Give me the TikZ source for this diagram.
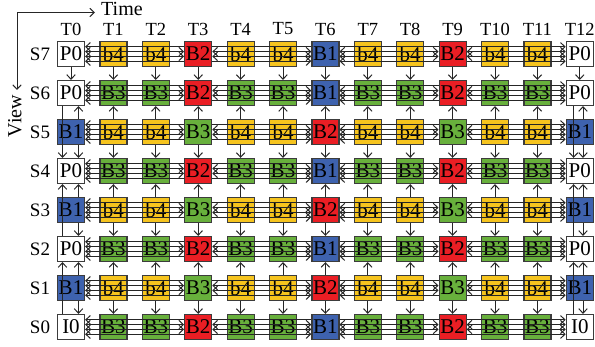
\documentclass[tikz,border=0pt]{standalone}
\usepackage{fontspec}
\setmainfont{Liberation Serif}
\usetikzlibrary{arrows.meta}
\definecolor{frmyel}{RGB}{246,196,30}
\definecolor{frmgrn}{RGB}{104,176,60}
\definecolor{frmred}{RGB}{234,30,36}
\definecolor{frmblu}{RGB}{62,98,174}
\definecolor{frmedge}{RGB}{60,60,60}
\tikzset{frm/.style={draw=frmedge,line width=1.2pt,minimum width=27pt,minimum height=25pt,
           inner sep=0pt,font=\fontsize{21}{21}\selectfont},
         wfr/.style={frm,fill=white},
         yfr/.style={frm,fill=frmyel},
         gfr/.style={frm,fill=frmgrn},
         rfr/.style={frm,fill=frmred},
         bfr/.style={frm,fill=frmblu},
         ref/.style={>={Straight Barb[length=4.5pt,width=8.5pt]},line width=1pt,draw=black!85},
         lbl/.style={inner sep=0pt,font=\fontsize{19}{19}\selectfont}}

\begin{document}
\begin{tikzpicture}[x=1pt,y=-1pt]
\useasboundingbox (0,0) rectangle (595,347);
\def\dx{42.4}
\def\dy{39}
% axes
\coordinate (tend) at (95,12.5);
\coordinate (vend) at (17,90);
\draw[ref,<->] (vend) |- (tend);
\node[lbl,anchor=west,font=\fontsize{20}{20}\selectfont] (time) at (101,9) {Time};
\node[lbl,rotate=90,font=\fontsize{20}{20}\selectfont] (view) at (15,116) {View};
% labels
\foreach \c in {0,...,12}
  \node[lbl,font=\fontsize{18.5}{18.5}\selectfont] (t\c) at ({71+\dx*\c},29) {T\c};
\foreach \r in {0,...,7}
  \node[lbl] (l\r) at (40,{327-\dy*\r}) {S\r};
% frames
\foreach \c/\lab/\sty in {0/I0/wfr,1/B3/gfr,2/B3/gfr,3/B2/rfr,4/B3/gfr,5/B3/gfr,6/B1/bfr,
                          7/B3/gfr,8/B3/gfr,9/B2/rfr,10/B3/gfr,11/B3/gfr,12/I0/wfr}
  \node[\sty] (s0-\c) at ({71+\dx*\c},327) {\lab};
\foreach \r in {2,4,6}
  \foreach \c/\lab/\sty in {0/P0/wfr,1/B3/gfr,2/B3/gfr,3/B2/rfr,4/B3/gfr,5/B3/gfr,6/B1/bfr,
                            7/B3/gfr,8/B3/gfr,9/B2/rfr,10/B3/gfr,11/B3/gfr,12/P0/wfr}
    \node[\sty] (s\r-\c) at ({71+\dx*\c},{327-\dy*\r}) {\lab};
\foreach \r in {1,3,5}
  \foreach \c/\lab/\sty in {0/B1/bfr,1/b4/yfr,2/b4/yfr,3/B3/gfr,4/b4/yfr,5/b4/yfr,6/B2/rfr,
                            7/b4/yfr,8/b4/yfr,9/B3/gfr,10/b4/yfr,11/b4/yfr,12/B1/bfr}
    \node[\sty] (s\r-\c) at ({71+\dx*\c},{327-\dy*\r}) {\lab};
\foreach \c/\lab/\sty in {0/P0/wfr,1/b4/yfr,2/b4/yfr,3/B2/rfr,4/b4/yfr,5/b4/yfr,6/B1/bfr,
                          7/b4/yfr,8/b4/yfr,9/B2/rfr,10/b4/yfr,11/b4/yfr,12/P0/wfr}
  \node[\sty] (s7-\c) at ({71+\dx*\c},54) {\lab};
% references in time
\foreach \r in {0,...,7}{
  \foreach \a/\b in {0/3,3/6,6/9,9/12}{
    \draw[ref,<->] ([yshift=2.4pt]s\r-\a.east) -- ([yshift=2.4pt]s\r-\b.west);
    \draw[ref,<->] ([yshift=-2.4pt]s\r-\a.east) -- ([yshift=-2.4pt]s\r-\b.west);
  }
  % level 1
  \draw[ref,<-] ([yshift=7.2pt]s\r-0.east) -- ([yshift=7.2pt]s\r-3.west);
  \draw[ref] ([yshift=7.2pt]s\r-3.east) -- ([yshift=7.2pt]s\r-6.west);
  \draw[ref] ([yshift=7.2pt]s\r-6.east) -- ([yshift=7.2pt]s\r-9.west);
  \draw[ref,->] ([yshift=7.2pt]s\r-9.east) -- ([yshift=7.2pt]s\r-12.west);
  % level 2
  \draw[ref,<-] ([yshift=-7.2pt]s\r-0.east) -- ([yshift=-7.2pt]s\r-3.west);
  \draw[ref,->] ([yshift=-7.2pt]s\r-3.east) -- ([yshift=-7.2pt]s\r-6.west);
  \draw[ref,<-] ([yshift=-7.2pt]s\r-6.east) -- ([yshift=-7.2pt]s\r-9.west);
  \draw[ref,->] ([yshift=-7.2pt]s\r-9.east) -- ([yshift=-7.2pt]s\r-12.west);
}
% references between views
\foreach \c in {0,...,12}
  \draw[ref,->] (s7-\c.south) -- (s6-\c.north);
\foreach \r/\u/\d in {1/2/0,3/4/2,5/6/4}{
  \foreach \c in {1,...,11}{
    \draw[ref,->] (s\r-\c.north) -- (s\u-\c.south);
    \draw[ref,->] (s\r-\c.south) -- (s\d-\c.north);
  }
  \foreach \c/\o in {0/7.5,12/3.2}{
    \draw[ref,->] ([xshift=\o pt]s\r-\c.north) -- ([xshift=\o pt]s\u-\c.south);
    \draw[ref,->] ([xshift=\o pt]s\r-\c.south) -- ([xshift=\o pt]s\d-\c.north);
  }
}
\foreach \c/\o in {0/-8.5,12/-6.2}{
  \draw[ref,->] ([xshift=\o pt]s0-\c.north) -- ([xshift=\o pt]s2-\c.south);
  \draw[ref,->] ([xshift=\o pt]s2-\c.north) -- ([xshift=\o pt]s4-\c.south);
  \draw[ref,->] ([xshift=\o pt]s6-\c.south) -- ([xshift=\o pt]s4-\c.north);
}
\end{tikzpicture}
\end{document}
